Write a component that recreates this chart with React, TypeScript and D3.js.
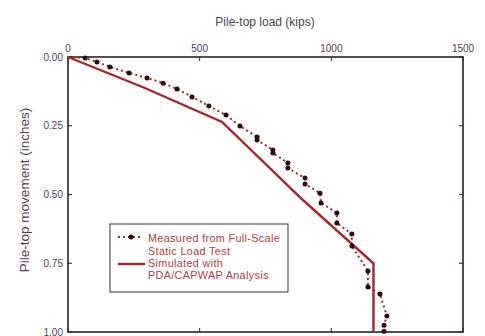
import React from "react";
import * as d3 from "d3";

const xTicks = [0, 500, 1000, 1500];
const yTicks = [0, 0.25, 0.5, 0.75, 1.0];

const measuredLoad = [0, 65, 110, 159, 232, 300, 361, 414, 471, 535, 600, 653, 718, 718, 778, 778, 835, 835, 900, 900, 957, 961, 1021, 1021, 1078, 1078, 1139, 1139, 1185, 1211, 1200, 1200];
const measuredMove = [0, 0.004, 0.018, 0.036, 0.058, 0.076, 0.095, 0.116, 0.145, 0.178, 0.211, 0.251, 0.291, 0.302, 0.338, 0.349, 0.385, 0.404, 0.44, 0.462, 0.495, 0.531, 0.567, 0.604, 0.644, 0.687, 0.778, 0.836, 0.862, 0.942, 0.975, 0.997];

const simLoad = [0, 285, 585, 892, 1160, 1160];
const simMove = [0, 0.11, 0.236, 0.52, 0.75, 1.0];

const legendLabels = ["Measured from Full-Scale", "Static Load Test", "Simulated with", "PDA/CAPWAP Analysis"];

const W = 485, H = 336;
const L = 68, R = 463, T = 57, B = 332;
const RED = "#a3282a";
const TEXTRED = "#b23a3c";
const AXIS = "#2a2222";
const LABEL = "#4a4050";
const FONT = "'Liberation Sans', Arial, sans-serif";

export default function App() {
  const x = d3.scaleLinear().domain([0, 1500]).range([L, R]);
  const y = d3.scaleLinear().domain([0, 1]).range([T, B]);
  const measured = measuredLoad.map((v, i) => [v, measuredMove[i]] as [number, number]);
  const sim = simLoad.map((v, i) => [v, simMove[i]] as [number, number]);
  const line = d3.line<[number, number]>().x(d => x(d[0])).y(d => y(d[1]));
  const tk = 4;
  return (
    <svg width={W} height={H} style={{ position: "absolute", left: 0, top: 0, background: "#fff" }} fontFamily={FONT}>
      <text x={265} y={26} textAnchor="middle" fontSize={12} fill={LABEL}>Pile-top load (kips)</text>
      <text transform={`translate(29,190) rotate(-90)`} textAnchor="middle" fontSize={13.5} fill={LABEL}>Pile-top movement (inches)</text>
      {xTicks.map(t => (
        <g key={"x" + t}>
          <text x={x(t)} y={52} textAnchor="middle" fontSize={10} fill={LABEL}>{t}</text>
          <line x1={x(t)} x2={x(t)} y1={T} y2={T + tk} stroke={AXIS} strokeWidth={1} />
          <line x1={x(t)} x2={x(t)} y1={B} y2={B - tk} stroke={AXIS} strokeWidth={1} />
        </g>
      ))}
      {yTicks.map(t => (
        <g key={"y" + t}>
          <text x={63} y={y(t) + 3.5} textAnchor="end" fontSize={10} fill={LABEL}>{t.toFixed(2)}</text>
          <line x1={L} x2={L + tk} y1={y(t)} y2={y(t)} stroke={AXIS} strokeWidth={1} />
          <line x1={R} x2={R - tk} y1={y(t)} y2={y(t)} stroke={AXIS} strokeWidth={1} />
        </g>
      ))}
      <rect x={L} y={T} width={R - L} height={B - T} fill="none" stroke={AXIS} strokeWidth={1.6} />
      <path d={line(sim) || ""} fill="none" stroke={RED} strokeWidth={2.4} />
      <path d={line(measured) || ""} fill="none" stroke={RED} strokeWidth={2} strokeDasharray="2,3" />
      {measured.slice(1).map((d, i) => (
        <circle key={i} cx={x(d[0])} cy={y(d[1])} r={2.5} fill="#2a0a0a" />
      ))}
      <rect x={110} y={224} width={178} height={68} fill="#fff" stroke="#333" strokeWidth={1} />
      <line x1={118} x2={143} y1={237} y2={237} stroke={RED} strokeWidth={2} strokeDasharray="2,3" />
      <circle cx={131} cy={237} r={2.5} fill="#2a0a0a" />
      <line x1={118} x2={145} y1={264} y2={264} stroke={RED} strokeWidth={2.4} />
      {legendLabels.map((s, i) => (
        <text key={s} x={148} y={[242, 254.5, 266.5, 279][i]} fontSize={10.8} letterSpacing={0.35} fill={TEXTRED}>{s}</text>
      ))}
    </svg>
  );
}
